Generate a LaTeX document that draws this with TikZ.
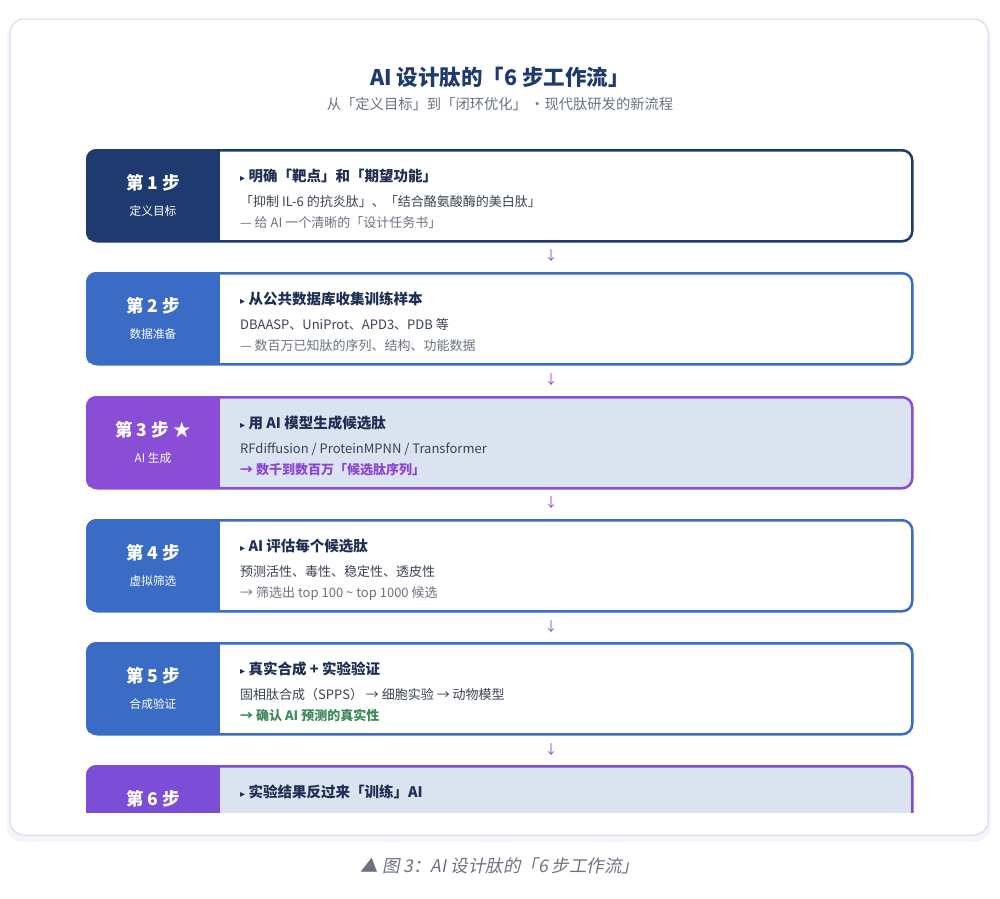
\documentclass[tikz,border=0pt]{standalone}
\usepackage{fontspec}
\setmainfont{Noto Sans CJK SC}
\newfontfamily\symfont{DejaVu Sans}
\newfontfamily\capfont[FakeSlant=0.2]{Noto Sans CJK SC}
\usetikzlibrary{positioning}

\definecolor{navy}{HTML}{1E3A6E}
\definecolor{stepblue}{HTML}{3A6BC5}
\definecolor{purple}{HTML}{8A4ED6}
\definecolor{violet}{HTML}{7C4DD6}
\definecolor{pale}{HTML}{DBE3F0}
\definecolor{ink}{HTML}{1F2F52}
\definecolor{body}{HTML}{3B4252}
\definecolor{muted}{HTML}{6B7280}
\definecolor{lilac}{HTML}{8B45D0}
\definecolor{leaf}{HTML}{3D8A5A}
\definecolor{cardline}{HTML}{CFD8E8}
\definecolor{haze}{HTML}{F3F5FA}

\tikzset{
  card/.style={draw=#1, line width=2.5pt, rounded corners=10pt, minimum width=825pt,
    minimum height=91pt, anchor=north west, inner sep=0pt},
  steplabel/.style={text=white, font=\fontsize{17.5}{17.5}\selectfont\bfseries},
  stepsub/.style={text=white, font=\fontsize{11.7}{11.7}\selectfont},
  head/.style={anchor=base west, inner sep=0pt, text=ink, font=\fontsize{14.5}{14.5}\selectfont\bfseries},
  line/.style={anchor=base west, inner sep=0pt, text=body, font=\fontsize{13}{13}\selectfont},
  note/.style={anchor=base west, inner sep=0pt, text=muted, font=\fontsize{13}{13}\selectfont},
  down/.style={text=purple, font=\fontsize{13}{13}\selectfont}
}
\newcommand{\tri}{{\symfont\fontsize{10}{10}\selectfont ▸}\ }

\begin{document}
\begin{tikzpicture}[x=1pt, y=-1pt]
\useasboundingbox (0,0) rectangle (1000,898);

% outer card
\fill[haze, rounded corners=16pt] (7,22) rectangle (991,842);
\draw[cardline, fill=white, line width=1pt, rounded corners=14pt] (10,19) rectangle (988,835);

% title
\node[text=navy, font=\fontsize{21.5}{21.5}\selectfont\bfseries] (title) at (500,77) {AI 设计肽的「6 步工作流」};
\node[text=muted, font=\fontsize{14.3}{14.3}\selectfont] (subtitle) at (500,104) {从「定义目标」到「闭环优化」 ·现代肽研发的新流程};

\begin{scope}
\clip (0,0) rectangle (1000,812);
% cards
\foreach \n/\y/\c/\f in {1/149/navy/white, 2/272/stepblue/white, 3/396/purple/pale,
    4/519/stepblue/white, 5/642/stepblue/white, 6/765/violet/pale} {
  \node[card=\c, fill=\f] (s\n) at (86,\y) {};
  \begin{scope}
    \clip[rounded corners=10pt] (s\n.north west) rectangle (s\n.south east);
    \fill[\c] (s\n.north west) rectangle (220,\y+91);
  \end{scope}
}

% step 1
\node[steplabel] (l1) at (153,183) {第 1 步};
\node[stepsub] (m1) at (153,211) {定义目标};
\node[head] (h1) at (240,181) {\tri 明确「靶点」和「期望功能」};
\node[line] (b1) at (240,206.5) {「抑制 IL-6 的抗炎肽」、「结合酪氨酸酶的美白肽」};
\node[note] (n1) at (240,227.5) {— 给 AI 一个清晰的「设计任务书」};

% step 2
\node[steplabel] (l2) at (153,306) {第 2 步};
\node[stepsub] (m2) at (153,334) {数据准备};
\node[head] (h2) at (240,304) {\tri 从公共数据库收集训练样本};
\node[line] (b2) at (240,329.5) {DBAASP、UniProt、APD3、PDB 等};
\node[note] (n2) at (240,350.5) {— 数百万已知肽的序列、结构、功能数据};

% step 3
\node[steplabel] (l3) at (153,430) {第 3 步 ★};
\node[stepsub] (m3) at (153,458) {AI 生成};
\node[head] (h3) at (240,428) {\tri 用 AI 模型生成候选肽};
\node[line] (b3) at (240,453.5) {RFdiffusion / ProteinMPNN / Transformer};
\node[note, text=lilac, font=\fontsize{13}{13}\selectfont\bfseries] (n3) at (240,474.5) {→ 数千到数百万「候选肽序列」};

% step 4
\node[steplabel] (l4) at (153,553) {第 4 步};
\node[stepsub] (m4) at (153,581) {虚拟筛选};
\node[head] (h4) at (240,551) {\tri AI 评估每个候选肽};
\node[line] (b4) at (240,576.5) {预测活性、毒性、稳定性、透皮性};
\node[note] (n4) at (240,597.5) {→ 筛选出 top 100 \textasciitilde{} top 1000 候选};

% step 5
\node[steplabel] (l5) at (153,676) {第 5 步};
\node[stepsub] (m5) at (153,704) {合成验证};
\node[head] (h5) at (240,674) {\tri 真实合成 + 实验验证};
\node[line] (b5) at (240,699.5) {固相肽合成（SPPS） → 细胞实验 → 动物模型};
\node[note, text=leaf, font=\fontsize{13}{13}\selectfont\bfseries] (n5) at (240,720.5) {→ 确认 AI 预测的真实性};

% step 6
\node[steplabel] (l6) at (153,799) {第 6 步};
\node[head] (h6) at (240,797) {\tri 实验结果反过来「训练」AI};
\end{scope}

% arrows between steps
\foreach \y in {256,380,503,627,750}
  \node[down] at (551,\y) {↓};

% caption
\node[text=muted, font=\capfont\fontsize{17.5}{17.5}\selectfont] (caption) at (500,866) {▲ 图 3：AI 设计肽的「6 步工作流」};
\end{tikzpicture}
\end{document}
